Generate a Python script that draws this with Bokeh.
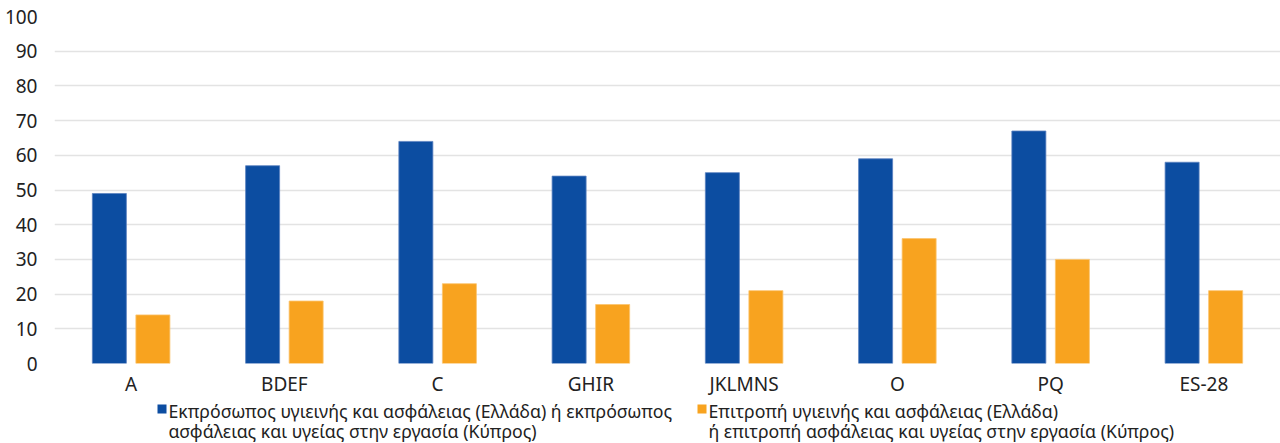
from bokeh.plotting import figure
from bokeh.models import FactorRange, Range1d, FixedTicker, ColumnDataSource
from bokeh.layouts import column
from bokeh.transform import dodge
from bokeh.core.properties import value
from bokeh.embed import file_html
from bokeh.resources import INLINE

categories = ["A", "BDEF", "C", "GHIR", "JKLMNS", "O", "PQ", "ES-28"]
representative = [49, 57, 64, 54, 55, 59, 67, 58]
committee = [14, 18, 23, 17, 21, 36, 30, 21]
y_ticks = [0, 10, 20, 30, 40, 50, 60, 70, 80, 90, 100]
legend_labels = [
    "Εκπρόσωπος υγιεινής και ασφάλειας (Ελλάδα) ή εκπρόσωπος\nασφάλειας και υγείας στην εργασία (Κύπρος)",
    "Επιτροπή υγιεινής και ασφάλειας (Ελλάδα)\nή επιτροπή ασφάλειας και υγείας στην εργασία (Κύπρος)",
]

BLUE = "#0c4da1"
ORANGE = "#f8a31f"
FONT = "Noto Sans"
TXT = "#222222"

src = ColumnDataSource(dict(cat=categories, rep=representative, com=committee))

p = figure(x_range=FactorRange(*categories), y_range=Range1d(0, 100),
           width=1280, height=400, output_backend="svg", toolbar_location=None,
           min_border_left=54, min_border_right=0, min_border_top=16, min_border_bottom=37)
p.outline_line_color = None
p.x_range.range_padding = 0
p.x_range.group_padding = 0
p.frame_align = False

p.vbar(x=dodge("cat", -0.142, range=p.x_range), top="rep", width=0.222, source=src,
       fill_color=BLUE, line_color="#5b82c0", line_width=0.8)
p.vbar(x=dodge("cat", 0.142, range=p.x_range), top="com", width=0.222, source=src,
       fill_color=ORANGE, line_color="#fbc46f", line_width=0.8)

p.yaxis.ticker = FixedTicker(ticks=y_ticks)
p.ygrid.ticker = FixedTicker(ticks=y_ticks)
p.ygrid.grid_line_color = "#e3e3e3"
p.ygrid.grid_line_width = 1.5
p.xgrid.grid_line_color = None

for ax in (p.xaxis, p.yaxis):
    ax.axis_line_color = None
    ax.major_tick_line_color = None
    ax.minor_tick_line_color = None
    ax.major_tick_out = 0
    ax.major_tick_in = 0
    ax.major_label_text_font = FONT
    ax.major_label_text_font_size = "19px"
    ax.major_label_text_color = TXT
p.yaxis.major_label_standoff = 17
p.xaxis.major_label_standoff = 7

# legend panel
leg = figure(x_range=Range1d(0, 1280), y_range=Range1d(43, 0), width=1280, height=43,
             output_backend="svg", toolbar_location=None,
             x_axis_location=None, y_axis_location=None,
             min_border_left=0, min_border_right=0, min_border_top=0, min_border_bottom=0)
leg.frame_align = False
leg.grid.visible = False
leg.outline_line_color = None
leg_src = ColumnDataSource(dict(sx=[161.5, 701.5], sy=[8.5, 8.5], tx=[168, 708], ty=[-1.5, -1.5],
                                label=legend_labels, color=[BLUE, ORANGE]))
leg.scatter(x="sx", y="sy", marker="square", size=9, fill_color="color", line_color=None,
            source=leg_src)
leg.text(x="tx", y="ty", text="label", source=leg_src, text_font=value(FONT),
         text_font_size="17.7px", text_color=TXT, text_baseline="top", text_align="left",
         text_line_height=0.82)

layout = column(p, leg, spacing=0)
open("out.html", "w").write(file_html(layout, INLINE))
